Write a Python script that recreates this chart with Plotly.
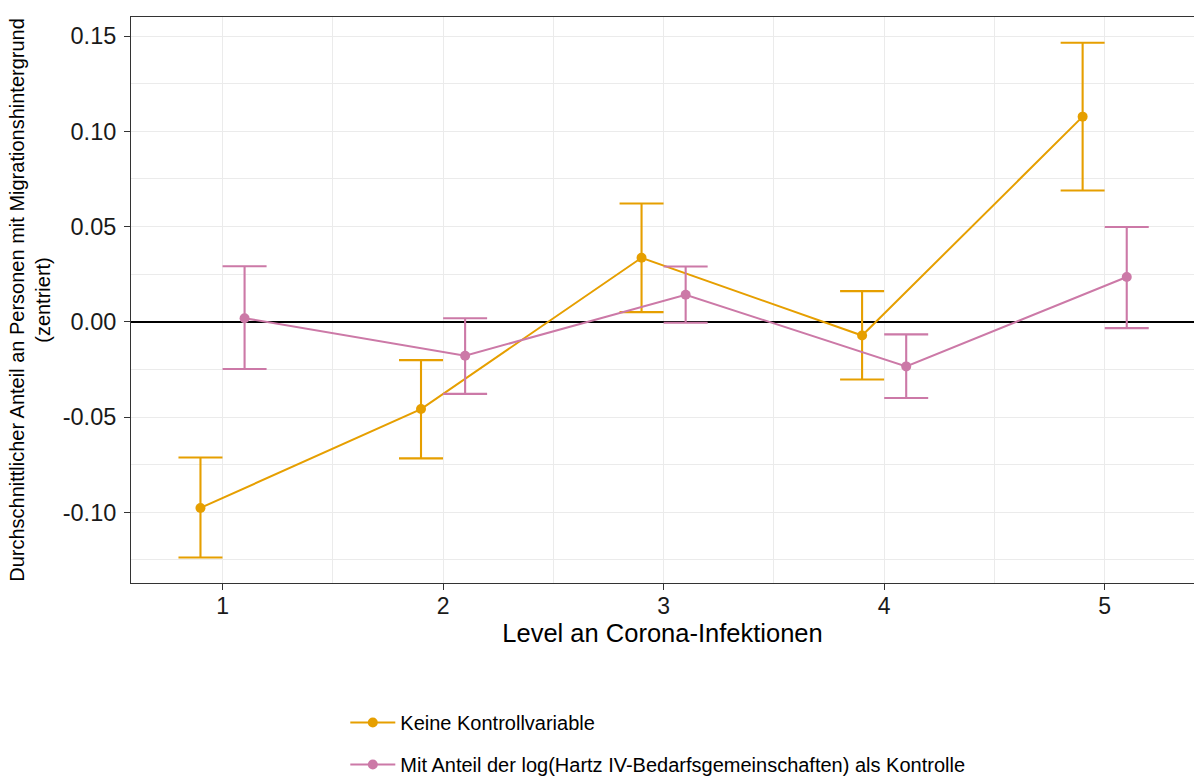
import plotly.graph_objects as go

# ---- data ----
LEVELS = [1, 2, 3, 4, 5]
SERIES_NAMES = [
    "Keine Kontrollvariable",
    "Mit Anteil der log(Hartz IV-Bedarfsgemeinschaften) als Kontrolle",
]
EST_NONE = [-0.0977, -0.0458, 0.0336, -0.0072, 0.1077]
LOW_NONE = [-0.1237, -0.0717, 0.0051, -0.0303, 0.0689]
HIGH_NONE = [-0.0712, -0.0201, 0.0621, 0.0161, 0.1465]

EST_CTRL = [0.0019, -0.0178, 0.0142, -0.0234, 0.0235]
LOW_CTRL = [-0.0248, -0.0378, -0.0005, -0.0400, -0.0033]
HIGH_CTRL = [0.0292, 0.0019, 0.0290, -0.0066, 0.0498]

Y_TICKS = [-0.10, -0.05, 0.00, 0.05, 0.10, 0.15]
Y_TICK_LABELS = ["-0.10", "-0.05", "0.00", "0.05", "0.10", "0.15"]
Y_MINOR = [-0.125, -0.075, -0.025, 0.025, 0.075, 0.125]
X_MINOR = [1.5, 2.5, 3.5, 4.5]

X_TITLE = "Level an Corona-Infektionen"
Y_TITLE = "Durchschnittlicher Anteil an Personen mit Migrationshintergrund<br>(zentriert)"

COLORS = ["#E69F00", "#CC79A7"]
DODGE = 0.1
FONT = "Liberation Sans, Arial, Helvetica, sans-serif"

fig = go.Figure()

series = [
    (EST_NONE, LOW_NONE, HIGH_NONE, -DODGE),
    (EST_CTRL, LOW_CTRL, HIGH_CTRL, DODGE),
]
for i, (est, low, high, off) in enumerate(series):
    xs = [lv + off for lv in LEVELS]
    fig.add_trace(go.Scatter(
        x=xs, y=est,
        mode="lines+markers",
        name=SERIES_NAMES[i],
        legendgroup=f"g{i}",
        line=dict(color=COLORS[i], width=2),
        marker=dict(color=COLORS[i], size=10),
        error_y=dict(
            type="data", symmetric=False,
            array=[h - e for h, e in zip(high, est)],
            arrayminus=[e - l for e, l in zip(est, low)],
            color=COLORS[i], thickness=2.1, width=22,
        ),
    ))

GRID = "#EBEBEB"
fig.update_layout(
    width=1194, height=776,
    paper_bgcolor="white", plot_bgcolor="white",
    margin=dict(l=131, r=0, t=17, b=193, autoexpand=False),
    font=dict(family=FONT, color="black"),
    showlegend=True,
    legend=dict(
        orientation="v",
        x=0.2016, xanchor="left",
        y=-0.2120, yanchor="top",
        font=dict(size=20, family=FONT, color="black"),
        tracegroupgap=13,
        itemwidth=45,
        bgcolor="rgba(0,0,0,0)",
    ),
    xaxis=dict(
        range=[0.585, 5.405],
        automargin=False,
        tickmode="array", tickvals=LEVELS, ticktext=[str(v) for v in LEVELS],
        ticks="outside", ticklen=6, tickwidth=1, tickcolor="#333333",
        ticklabelstandoff=-4,
        tickfont=dict(size=23, color="#1a1a1a"),
        showgrid=True, gridcolor=GRID, gridwidth=1.2,
        minor=dict(tickvals=X_MINOR, showgrid=True, gridcolor=GRID, gridwidth=0.7, ticks=""),
        showline=True, linecolor="#333333", linewidth=1, mirror=True,
        zeroline=False,
        title=dict(text=X_TITLE, font=dict(size=25.5, color="black"), standoff=3),
    ),
    yaxis=dict(
        range=[-0.1371, 0.1600],
        automargin=False,
        tickmode="array", tickvals=Y_TICKS, ticktext=Y_TICK_LABELS,
        ticks="outside", ticklen=6, tickwidth=1, tickcolor="#333333",
        ticklabelstandoff=3,
        tickfont=dict(size=23.5, color="#1a1a1a"),
        showgrid=True, gridcolor=GRID, gridwidth=1.2,
        minor=dict(tickvals=Y_MINOR, showgrid=True, gridcolor=GRID, gridwidth=0.7, ticks=""),
        showline=True, linecolor="#333333", linewidth=1, mirror=False,
        zeroline=True, zerolinecolor="black", zerolinewidth=2,
        title=dict(text=Y_TITLE, font=dict(size=20, color="black"), standoff=6),
    ),
)

fig.write_html(
    "out.html",
    config={"displayModeBar": False},
    post_script="document.body.style.margin='0';document.body.style.overflow='hidden';",
)
